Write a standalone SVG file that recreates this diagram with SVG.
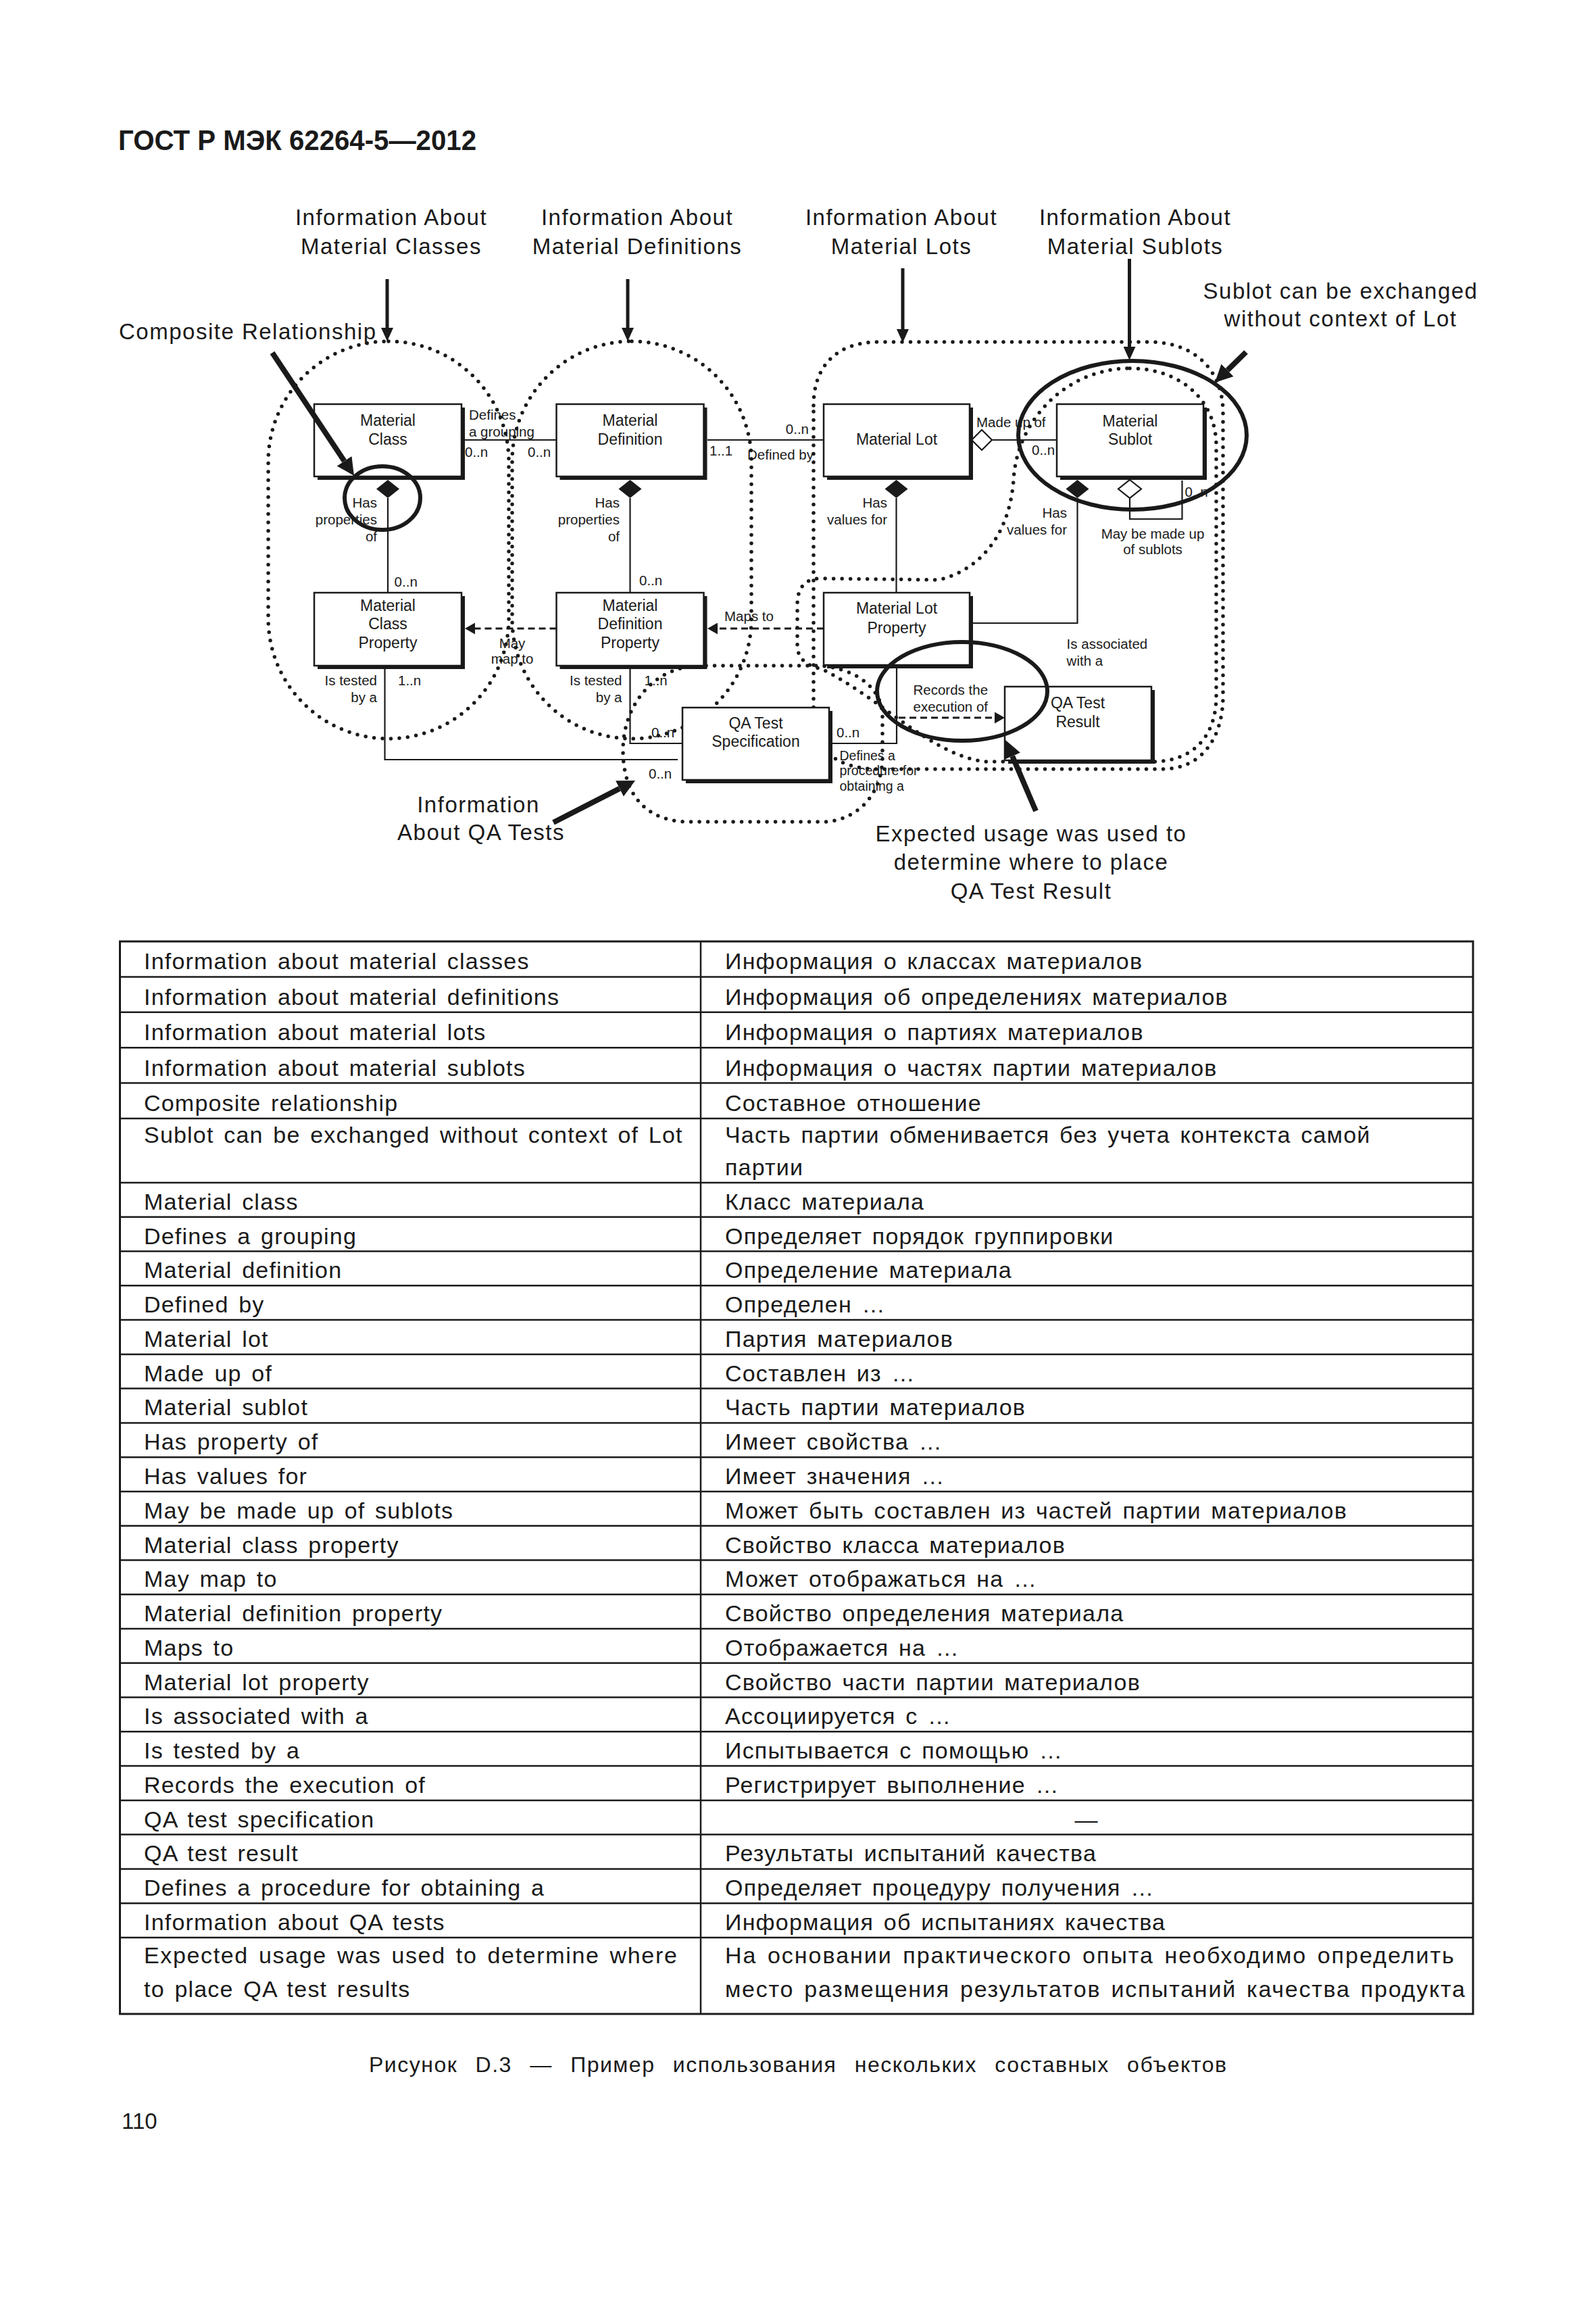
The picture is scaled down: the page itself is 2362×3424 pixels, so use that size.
<svg xmlns="http://www.w3.org/2000/svg" width="2362" height="3424" viewBox="0 0 2362 3424">
<style>
text{font-family:"Liberation Sans",Arial,sans-serif;fill:#1a1a1a}
.hdr{font-size:42px;font-weight:bold}
.ann{font-size:33px;letter-spacing:1.5px}
.bx{font-size:23px;text-anchor:middle}
.sm{font-size:20.5px}
.xs{font-size:19.5px}
.end{text-anchor:end}
.mid{text-anchor:middle}
.tb{font-size:34px;letter-spacing:1.2px;word-spacing:4px}
.cap{font-size:32px;letter-spacing:1.5px;word-spacing:16px}
.dot{fill:none;stroke:#1a1a1a;stroke-width:5.5;stroke-dasharray:0 12.5;stroke-linecap:round}
.ln{fill:none;stroke:#1a1a1a;stroke-width:2.2}
.dash{fill:none;stroke:#1a1a1a;stroke-width:3;stroke-dasharray:10 6}
.thick{fill:none;stroke:#1a1a1a;stroke-width:6}
.arr{fill:none;stroke:#1a1a1a;stroke-width:5}
.arrB{fill:none;stroke:#1a1a1a;stroke-width:8}
.box{fill:#fff;stroke:#1a1a1a;stroke-width:2.5}
.shd{fill:#1a1a1a}
.tl{stroke:#1a1a1a;stroke-width:2.5}
</style>
<defs>
<marker id="ah" viewBox="0 0 20 18" refX="0" refY="9" markerWidth="20" markerHeight="18" markerUnits="userSpaceOnUse" orient="auto"><path d="M0,0 L20,9 L0,18 Z" fill="#1a1a1a"/></marker>
<marker id="ahB" viewBox="0 0 26 26" refX="0" refY="13" markerWidth="26" markerHeight="26" markerUnits="userSpaceOnUse" orient="auto"><path d="M0,0 L26,13 L0,26 Z" fill="#1a1a1a"/></marker>
<marker id="tri" viewBox="0 0 15 17" refX="0" refY="8.5" markerWidth="15" markerHeight="17" markerUnits="userSpaceOnUse" orient="auto"><path d="M0,0 L15,8.5 L0,17 Z" fill="#1a1a1a"/></marker>
</defs>

<text class="hdr" x="175" y="222" textLength="530" lengthAdjust="spacingAndGlyphs">ГОСТ Р МЭК 62264-5—2012</text>

<g id="regions">
<rect class="dot" x="397" y="505" width="356" height="588" rx="178" ry="178"/>
<rect class="dot" x="758" y="505" width="354" height="588" rx="177" ry="177"/>
<path class="dot" d="M1204 600 C1204 540 1240 506 1300 506 L1700 506 C1770 506 1810 550 1810 610 L1810 1030 C1810 1090 1780 1138 1720 1138 L1300 1138 C1240 1138 1204 1110 1204 1060 Z"/>
<path class="dot" d="M1672 545 C1745 545 1800 590 1800 660 L1800 1030 C1800 1090 1765 1127 1705 1127 L1460 1127 C1380 1120 1300 1030 1216 990 Q1180 982 1180 955 L1180 895 Q1180 856 1215 856 L1390 858 C1460 840 1495 780 1500 710 C1505 620 1580 545 1672 545 Z"/>
<path class="dot" d="M1031 985 C960 990 922 1050 922 1110 C922 1180 960 1216 1020 1216 L1225 1216 C1275 1210 1306 1170 1306 1120 L1306 1060 C1306 1015 1260 985 1204 985 Z"/>
</g>

<g id="connectors">
<line class="ln" x1="688" y1="651" x2="823.5" y2="651"/>
<line class="ln" x1="1047" y1="651" x2="1219" y2="651"/>
<line class="ln" x1="1468" y1="651" x2="1564" y2="651"/>
<polygon points="1438,651 1453,636 1468,651 1453,666" fill="#fff" stroke="#1a1a1a" stroke-width="2.2"/>
<line class="ln" x1="574" y1="737" x2="574" y2="877"/>
<polygon points="574,710 591,723.5 574,737 557,723.5" fill="#1a1a1a"/>
<line class="ln" x1="932.5" y1="737" x2="932.5" y2="877"/>
<polygon points="932.5,710 949.5,723.5 932.5,737 915.5,723.5" fill="#1a1a1a"/>
<line class="ln" x1="1326.5" y1="737" x2="1326.5" y2="877"/>
<polygon points="1326.5,710 1343.5,723.5 1326.5,737 1309.5,723.5" fill="#1a1a1a"/>
<polyline class="ln" points="1594.5,737 1594.5,922 1440,922"/>
<polygon points="1594.5,710 1611.5,723.5 1594.5,737 1577.5,723.5" fill="#1a1a1a"/>
<polyline class="ln" points="1672,737 1672,768 1749.5,768 1749.5,711"/>
<polygon points="1672,710 1689,723.5 1672,737 1655,723.5" fill="#fff" stroke="#1a1a1a" stroke-width="2.2"/>
<line class="dash" x1="823.5" y1="930" x2="703" y2="930" marker-end="url(#tri)"/>
<line class="dash" x1="1219" y1="930" x2="1062" y2="930" marker-end="url(#tri)"/>
<polyline class="ln" points="569.5,990 569.5,1124 1003,1124"/>
<polyline class="ln" points="932.5,990 932.5,1100 1010,1100"/>
<polyline class="ln" points="1327,989 1327,1100 1232,1100"/>
<line class="dash" x1="1330" y1="1062" x2="1472" y2="1062" marker-end="url(#tri)"/>
</g>

<g id="node-material-class"><rect class="shd" x="470" y="603" width="218" height="107"/><rect class="box" x="465" y="598" width="218" height="107"/><text class="bx" x="574" y="630">Material</text><text class="bx" x="574" y="658">Class</text></g>
<g id="node-material-definition"><rect class="shd" x="828.5" y="603" width="218" height="107"/><rect class="box" x="823.5" y="598" width="218" height="107"/><text class="bx" x="932.5" y="630">Material</text><text class="bx" x="932.5" y="658">Definition</text></g>
<g id="node-material-lot"><rect class="shd" x="1224" y="603" width="216" height="107"/><rect class="box" x="1219" y="598" width="216" height="107"/><text class="bx" x="1327" y="658">Material Lot</text></g>
<g id="node-material-sublot"><rect class="shd" x="1569" y="603" width="217" height="107"/><rect class="box" x="1564" y="598" width="217" height="107"/><text class="bx" x="1672.5" y="630.5">Material</text><text class="bx" x="1672.5" y="658">Sublot</text></g>
<g id="node-material-class-property"><rect class="shd" x="470" y="882" width="218" height="108"/><rect class="box" x="465" y="877" width="218" height="108"/><text class="bx" x="574" y="904">Material</text><text class="bx" x="574" y="931">Class</text><text class="bx" x="574" y="958.7">Property</text></g>
<g id="node-material-definition-property"><rect class="shd" x="828.5" y="882" width="218" height="108"/><rect class="box" x="823.5" y="877" width="218" height="108"/><text class="bx" x="932.5" y="904">Material</text><text class="bx" x="932.5" y="931">Definition</text><text class="bx" x="932.5" y="958.7">Property</text></g>
<g id="node-material-lot-property"><rect class="shd" x="1224" y="882" width="216" height="107"/><rect class="box" x="1219" y="877" width="216" height="107"/><text class="bx" x="1327" y="908">Material Lot</text><text class="bx" x="1327" y="937">Property</text></g>
<g id="node-qa-test-specification"><rect class="shd" x="1015" y="1052" width="217" height="107"/><rect class="box" x="1010" y="1047" width="217" height="107"/><text class="bx" x="1118.5" y="1078">QA Test</text><text class="bx" x="1118.5" y="1105">Specification</text></g>
<g id="node-qa-test-result"><rect class="shd" x="1492" y="1021" width="217" height="109"/><rect class="box" x="1487" y="1016" width="217" height="109"/><text class="bx" x="1595" y="1048">QA Test</text><text class="bx" x="1595" y="1076">Result</text></g>

<g id="labels">
<text class="sm" x="694" y="620.6">Defines</text>
<text class="sm" x="694" y="645.5">a grouping</text>
<text class="sm" x="688" y="676">0..n</text>
<text class="sm" x="781" y="676">0..n</text>
<text class="sm" x="1050" y="674">1..1</text>
<text class="sm" x="1106" y="680">Defined by</text>
<text class="sm end" x="1197" y="642">0..n</text>
<text class="sm" x="1445" y="631.7">Made up of</text>
<text class="sm" x="1527" y="672.8">0..n</text>
<text class="sm end" x="558" y="751">Has</text>
<text class="sm end" x="558" y="775.6">properties</text>
<text class="sm end" x="558" y="800.5">of</text>
<text class="sm end" x="917" y="751">Has</text>
<text class="sm end" x="917" y="775.6">properties</text>
<text class="sm end" x="917" y="800.5">of</text>
<text class="sm" x="583.6" y="867.7">0..n</text>
<text class="sm" x="946" y="865.7">0..n</text>
<text class="sm end" x="1313" y="751">Has</text>
<text class="sm end" x="1313" y="775.6">values for</text>
<text class="sm end" x="1579" y="765.7">Has</text>
<text class="sm end" x="1579" y="790.6">values for</text>
<text class="sm" x="1753.5" y="735">0..n</text>
<text class="sm mid" x="1706" y="796.6">May be made up</text>
<text class="sm mid" x="1706" y="820">of sublots</text>
<text class="sm mid" x="758" y="958.7">May</text>
<text class="sm mid" x="758" y="981.6">map to</text>
<text class="sm" x="1072" y="919">Maps to</text>
<text class="sm end" x="558" y="1014">Is tested</text>
<text class="sm end" x="558" y="1038.6">by a</text>
<text class="sm" x="589" y="1014">1..n</text>
<text class="sm end" x="920.5" y="1014">Is tested</text>
<text class="sm end" x="920.5" y="1038.6">by a</text>
<text class="sm" x="953.5" y="1014">1..n</text>
<text class="sm" x="964" y="1091">0..n</text>
<text class="sm" x="960" y="1151.7">0..n</text>
<text class="sm" x="1238" y="1090.7">0..n</text>
<text class="xs" x="1242.5" y="1125">Defines a</text>
<text class="xs" x="1242.5" y="1146.7">procedure for</text>
<text class="xs" x="1242.5" y="1170">obtaining a</text>
<text class="sm" x="1578.6" y="960">Is associated</text>
<text class="sm" x="1578.6" y="985">with a</text>
<text class="sm" x="1351.5" y="1028">Records the</text>
<text class="sm" x="1351.5" y="1052.7">execution of</text>
</g>

<g id="highlights">
<ellipse class="thick" cx="566" cy="737" rx="56" ry="47"/>
<ellipse class="thick" cx="1676" cy="644" rx="169" ry="110"/>
<ellipse class="thick" cx="1424" cy="1023" rx="126" ry="73"/>
</g>

<g id="annotations">
<text class="ann mid" x="579" y="333">Information About</text>
<text class="ann mid" x="579" y="376">Material Classes</text>
<text class="ann mid" x="943" y="333">Information About</text>
<text class="ann mid" x="943" y="376">Material Definitions</text>
<text class="ann mid" x="1334" y="333">Information About</text>
<text class="ann mid" x="1334" y="376">Material Lots</text>
<text class="ann mid" x="1680" y="333">Information About</text>
<text class="ann mid" x="1680" y="376">Material Sublots</text>
<text class="ann" x="176" y="501.7">Composite Relationship</text>
<text class="ann mid" x="1984" y="442">Sublot can be exchanged</text>
<text class="ann mid" x="1984" y="483">without context of Lot</text>
<text class="ann mid" x="708" y="1201.7">Information</text>
<text class="ann mid" x="712" y="1243">About QA Tests</text>
<text class="ann mid" x="1526" y="1245">Expected usage was used to</text>
<text class="ann mid" x="1526" y="1286.7">determine where to place</text>
<text class="ann mid" x="1526" y="1330">QA Test Result</text>
<line class="arr" x1="573" y1="413" x2="573" y2="485" marker-end="url(#ah)"/>
<line class="arr" x1="929" y1="413" x2="929" y2="485" marker-end="url(#ah)"/>
<line class="arr" x1="1336" y1="397" x2="1336" y2="487" marker-end="url(#ah)"/>
<line class="arr" x1="1671.5" y1="383" x2="1671.5" y2="513" marker-end="url(#ah)"/>
<line class="arrB" x1="403" y1="522" x2="509.6" y2="682.3" marker-end="url(#ahB)"/>
<line class="arrB" x1="1844" y1="521" x2="1816.6" y2="547.8" marker-end="url(#ahB)"/>
<line class="arrB" x1="819" y1="1217" x2="916.9" y2="1166.9" marker-end="url(#ahB)"/>
<line class="arrB" x1="1533" y1="1200" x2="1498.2" y2="1118.9" marker-end="url(#ahB)"/>
</g>

<g id="table">
<rect x="177.5" y="1393" width="2002.5" height="1587" fill="none" stroke="#1a1a1a" stroke-width="3"/>
<line class="tl" x1="1037" y1="1393" x2="1037" y2="2980"/>
<line class="tl" x1="177.5" y1="1445.4" x2="2180" y2="1445.4"/>
<line class="tl" x1="177.5" y1="1497.8" x2="2180" y2="1497.8"/>
<line class="tl" x1="177.5" y1="1550.2" x2="2180" y2="1550.2"/>
<line class="tl" x1="177.5" y1="1602.6" x2="2180" y2="1602.6"/>
<line class="tl" x1="177.5" y1="1655" x2="2180" y2="1655"/>
<line class="tl" x1="177.5" y1="1750" x2="2180" y2="1750"/>
<line class="tl" x1="177.5" y1="1800.8" x2="2180" y2="1800.8"/>
<line class="tl" x1="177.5" y1="1851.5" x2="2180" y2="1851.5"/>
<line class="tl" x1="177.5" y1="1902.3" x2="2180" y2="1902.3"/>
<line class="tl" x1="177.5" y1="1953.1" x2="2180" y2="1953.1"/>
<line class="tl" x1="177.5" y1="2003.9" x2="2180" y2="2003.9"/>
<line class="tl" x1="177.5" y1="2054.6" x2="2180" y2="2054.6"/>
<line class="tl" x1="177.5" y1="2105.4" x2="2180" y2="2105.4"/>
<line class="tl" x1="177.5" y1="2156.2" x2="2180" y2="2156.2"/>
<line class="tl" x1="177.5" y1="2206.9" x2="2180" y2="2206.9"/>
<line class="tl" x1="177.5" y1="2257.7" x2="2180" y2="2257.7"/>
<line class="tl" x1="177.5" y1="2308.5" x2="2180" y2="2308.5"/>
<line class="tl" x1="177.5" y1="2359.2" x2="2180" y2="2359.2"/>
<line class="tl" x1="177.5" y1="2410" x2="2180" y2="2410"/>
<line class="tl" x1="177.5" y1="2460.8" x2="2180" y2="2460.8"/>
<line class="tl" x1="177.5" y1="2511.6" x2="2180" y2="2511.6"/>
<line class="tl" x1="177.5" y1="2562.3" x2="2180" y2="2562.3"/>
<line class="tl" x1="177.5" y1="2613.1" x2="2180" y2="2613.1"/>
<line class="tl" x1="177.5" y1="2663.9" x2="2180" y2="2663.9"/>
<line class="tl" x1="177.5" y1="2714.6" x2="2180" y2="2714.6"/>
<line class="tl" x1="177.5" y1="2765.4" x2="2180" y2="2765.4"/>
<line class="tl" x1="177.5" y1="2816.2" x2="2180" y2="2816.2"/>
<line class="tl" x1="177.5" y1="2867" x2="2180" y2="2867"/>
<text class="tb" x="213" y="1434.4">Information about material classes</text><text class="tb" x="1073" y="1434.4">Информация о классах материалов</text>
<text class="tb" x="213" y="1486.8">Information about material definitions</text><text class="tb" x="1073" y="1486.8">Информация об определениях материалов</text>
<text class="tb" x="213" y="1539.2">Information about material lots</text><text class="tb" x="1073" y="1539.2">Информация о партиях материалов</text>
<text class="tb" x="213" y="1591.6">Information about material sublots</text><text class="tb" x="1073" y="1591.6">Информация о частях партии материалов</text>
<text class="tb" x="213" y="1644">Composite relationship</text><text class="tb" x="1073" y="1644">Составное отношение</text>
<text class="tb" x="213" y="1691">Sublot can be exchanged without context of Lot</text><text class="tb" x="1073" y="1691">Часть партии обменивается без учета контекста самой</text><text class="tb" x="1073" y="1739">партии</text>
<text class="tb" x="213" y="1789.8">Material class</text><text class="tb" x="1073" y="1789.8">Класс материала</text>
<text class="tb" x="213" y="1840.5">Defines a grouping</text><text class="tb" x="1073" y="1840.5">Определяет порядок группировки</text>
<text class="tb" x="213" y="1891.3">Material definition</text><text class="tb" x="1073" y="1891.3">Определение материала</text>
<text class="tb" x="213" y="1942.1">Defined by</text><text class="tb" x="1073" y="1942.1">Определен …</text>
<text class="tb" x="213" y="1992.9">Material lot</text><text class="tb" x="1073" y="1992.9">Партия материалов</text>
<text class="tb" x="213" y="2043.6">Made up of</text><text class="tb" x="1073" y="2043.6">Составлен из …</text>
<text class="tb" x="213" y="2094.4">Material sublot</text><text class="tb" x="1073" y="2094.4">Часть партии материалов</text>
<text class="tb" x="213" y="2145.2">Has property of</text><text class="tb" x="1073" y="2145.2">Имеет свойства …</text>
<text class="tb" x="213" y="2195.9">Has values for</text><text class="tb" x="1073" y="2195.9">Имеет значения …</text>
<text class="tb" x="213" y="2246.7">May be made up of sublots</text><text class="tb" x="1073" y="2246.7">Может быть составлен из частей партии материалов</text>
<text class="tb" x="213" y="2297.5">Material class property</text><text class="tb" x="1073" y="2297.5">Свойство класса материалов</text>
<text class="tb" x="213" y="2348.2">May map to</text><text class="tb" x="1073" y="2348.2">Может отображаться на …</text>
<text class="tb" x="213" y="2399">Material definition property</text><text class="tb" x="1073" y="2399">Свойство определения материала</text>
<text class="tb" x="213" y="2449.8">Maps to</text><text class="tb" x="1073" y="2449.8">Отображается на …</text>
<text class="tb" x="213" y="2500.6">Material lot property</text><text class="tb" x="1073" y="2500.6">Свойство части партии материалов</text>
<text class="tb" x="213" y="2551.3">Is associated with a</text><text class="tb" x="1073" y="2551.3">Ассоциируется с …</text>
<text class="tb" x="213" y="2602.1">Is tested by a</text><text class="tb" x="1073" y="2602.1">Испытывается с помощью …</text>
<text class="tb" x="213" y="2652.9">Records the execution of</text><text class="tb" x="1073" y="2652.9">Регистрирует выполнение …</text>
<text class="tb" x="213" y="2703.6">QA test specification</text><text class="tb mid" x="1608" y="2703.6">—</text>
<text class="tb" x="213" y="2754.4">QA test result</text><text class="tb" x="1073" y="2754.4">Результаты испытаний качества</text>
<text class="tb" x="213" y="2805.2">Defines a procedure for obtaining a</text><text class="tb" x="1073" y="2805.2">Определяет процедуру получения …</text>
<text class="tb" x="213" y="2856">Information about QA tests</text><text class="tb" x="1073" y="2856">Информация об испытаниях качества</text>
<text class="tb" x="213" y="2905" textLength="790" lengthAdjust="spacing">Expected usage was used to determine where</text><text class="tb" x="1073" y="2905" textLength="1080" lengthAdjust="spacing">На основании практического опыта необходимо определить</text>
<text class="tb" x="213" y="2955">to place QA test results</text><text class="tb" x="1073" y="2955" textLength="1096" lengthAdjust="spacing">место размещения результатов испытаний качества продукта</text>
</g>

<text class="cap" x="546" y="3066">Рисунок D.3 — Пример использования нескольких составных объектов</text>
<text x="180" y="3150" font-size="33">110</text>
</svg>
